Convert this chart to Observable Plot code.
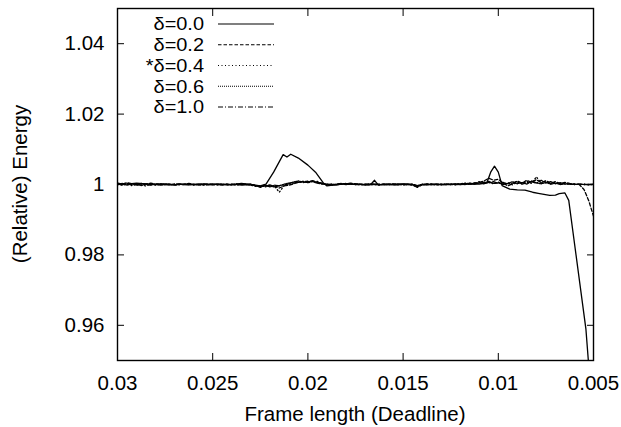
<!DOCTYPE html>
<html><head><meta charset="utf-8">
<script src="https://cdn.jsdelivr.net/npm/d3@7"></script>
<script src="https://cdn.jsdelivr.net/npm/@observablehq/plot@0.6"></script>
<style>
body{margin:0;background:#fff;}
#wrap{position:relative;width:621px;height:427px;}
#wrap svg{display:block;}
#over{position:absolute;left:0;top:0;pointer-events:none;}
</style></head><body><div id="wrap"></div>
<script>
const seriesNames = ["δ=0.0", "δ=0.2", "*δ=0.4", "δ=0.6", "δ=1.0"];
const xTicks = [0.03, 0.025, 0.02, 0.015, 0.01, 0.005];
const xTickLabels = ["0.03", "0.025", "0.02", "0.015", "0.01", "0.005"];
const yTicks = [0.96, 0.98, 1, 1.02, 1.04];
const yTickLabels = ["0.96", "0.98", "1", "1.02", "1.04"];
const xTitle = "Frame length (Deadline)";
const yTitle = "(Relative) Energy";

// δ=0.0 (solid)
const frame00 = [0.03,0.0295,0.029,0.0285,0.028,0.0275,0.027,0.0265,0.026,0.0255,0.025,0.0245,0.024,0.0235,0.023,0.0225,0.0222,0.0218,0.0215,0.0213,0.0211,0.0209,0.0205,0.02,0.0196,0.0192,0.019,0.0185,0.018,0.0175,0.017,0.0167,0.0165,0.0163,0.016,0.0155,0.015,0.0145,0.0143,0.014,0.0135,0.013,0.0125,0.012,0.0115,0.011,0.0106,0.0104,0.0102,0.01,0.0098,0.0094,0.009,0.0086,0.0082,0.0079,0.0076,0.0073,0.007,0.0068,0.0065,0.0063,0.0054,0.0052];
const energy00 = [1.0003,1.0001,1.0004,1.0002,1.0,1.0002,0.9999,1.0001,1.0,1.0002,1.0,1.0001,0.9999,1.0003,1.0,0.9996,1.0001,1.0035,1.0065,1.0085,1.0078,1.0086,1.0075,1.0055,1.0035,1.0005,0.9996,1.0,1.0002,1.0001,0.9999,1.0,1.0012,0.9998,1.0001,1.0,1.0002,1.0,0.9993,0.9999,1.0001,1.0,1.0001,1.0,1.0002,1.0001,1.0005,1.0035,1.0052,1.0035,0.9997,0.9987,0.9985,0.9984,0.9978,0.9975,0.9972,0.9969,0.997,0.9974,0.9976,0.9955,0.959,0.945];

// shared frame lengths for the other series
const frameGrid = [0.03,0.02975,0.0295,0.02925,0.029,0.02875,0.0285,0.02825,0.028,0.02775,
0.0275,0.02725,0.027,0.02675,0.0265,0.02625,0.026,0.02575,0.0255,0.02525,
0.025,0.02475,0.0245,0.02425,0.024,0.02375,0.0235,0.02325,0.023,0.02275,
0.0225,0.02225,0.022,0.02175,0.0215,0.02125,0.021,0.02075,0.0205,0.02025,
0.02,0.01975,0.0195,0.01925,0.019,0.01875,0.0185,0.01825,0.018,0.01775,
0.0175,0.01725,0.017,0.01675,0.0165,0.01625,0.016,0.01575,0.0155,0.01525,
0.015,0.01475,0.0145,0.01425,0.014,0.01375,0.0135,0.01325,0.013,0.01275,
0.0125,0.01225,0.012,0.01175,0.0115,0.01125,0.011,0.01075,0.0105,0.01025,
0.01,0.00975,0.0095,0.00925,0.009,0.00875,0.0085,0.00825,0.008,0.00775,
0.0075,0.00725,0.007,0.00675,0.0065,0.00625,0.006,0.00575,0.0055,0.00525,
0.005];
const energy02 = [1.0004,1.0001,1.0005,1.0002,0.9999,1.0003,1.0001,1.0004,1.0,1.0002,
1.0001,0.9999,1.0002,1.0,1.0001,1.0003,1.0,0.9999,1.0001,1.0,
1.0002,1.0,0.9998,1.0001,1.0,1.0002,0.9999,1.0,1.0001,0.9997,
0.9992,0.9996,0.9999,0.9994,0.999,0.9996,0.9998,1.0002,1.0006,1.0009,
1.0008,1.001,1.0006,1.0004,1.0,0.9998,1.0001,1.0003,1.0002,1.0004,
1.0002,1.0001,1.0,1.0002,1.0001,0.9999,1.0001,1.0,1.0002,1.0001,
1.0,0.9999,1.0001,0.9996,1.0,1.0002,1.0001,1.0,0.9999,1.0001,
1.0,1.0002,1.0001,1.0,1.0003,1.0002,1.0006,1.001,1.0018,1.0012,
1.0015,1.0004,0.9996,1.0002,1.001,1.0004,1.0012,1.0006,1.0014,1.0005,
1.0011,1.0003,1.0008,1.0002,1.0006,1.0003,1.0001,1.0,0.9986,0.9954,
0.991];
const energy04 = [1.0002,0.9998,1.0001,0.9997,1.0002,0.9999,0.9996,1.0001,0.9998,1.0,
0.9999,1.0001,0.9998,1.0,0.9999,1.0001,0.9999,1.0,0.9998,1.0001,
1.0,0.9999,1.0001,0.9999,1.0,0.9998,1.0,1.0001,0.9998,0.9995,
0.9996,0.9993,0.9997,0.9995,0.9978,0.9997,0.9999,1.0004,1.0008,1.0005,
1.001,1.0007,1.0009,1.0003,0.9999,1.0001,1.0,1.0002,1.0001,1.0,
1.0001,0.9999,1.0,1.0001,0.9999,1.0,1.0001,0.9999,1.0,1.0001,
0.9999,1.0,0.9998,0.9992,0.9999,1.0001,1.0,0.9999,1.0001,1.0,
1.0001,0.9999,1.0002,1.0004,1.0001,1.0003,1.0008,1.0003,1.0006,1.0002,
1.0007,1.0001,1.0005,0.9999,1.0007,1.0002,1.0009,1.0003,1.0022,1.0004,
1.001,1.0002,1.0007,1.0001,1.0004,1.0,1.0002,1.0,1.0001,0.9999,
1.0];
const energy06 = [0.9999,1.0003,0.9998,1.0002,1.0,0.9997,1.0002,0.9999,1.0001,0.9998,
1.0,1.0001,0.9999,1.0001,1.0,0.9999,1.0001,0.9999,1.0,1.0,
0.9999,1.0001,1.0,0.9999,1.0001,1.0,0.9999,1.0,0.9999,0.9996,
0.9994,0.9997,0.9993,0.9998,0.9996,1.0001,1.0004,1.0007,1.001,1.0007,
1.0006,1.0011,1.0005,1.0002,1.0,1.0001,0.9999,1.0001,1.0003,1.0001,
1.0,1.0001,0.9999,1.0,1.0001,1.0,0.9999,1.0001,1.0,0.9999,
1.0001,1.0,0.9999,0.9995,1.0001,1.0,0.9999,1.0001,1.0,1.0001,
0.9999,1.0001,1.0,1.0002,1.0004,1.0001,1.0005,1.0002,1.0009,1.0003,
1.0005,1.0,1.0003,1.0008,1.0002,1.0006,1.0001,1.001,1.0005,1.0002,
1.0006,1.0001,1.0004,1.0,1.0002,1.0001,1.0,1.0001,1.0,1.0,
1.0001];
const energy10 = [1.0001,0.9999,1.0003,1.0,0.9998,1.0002,1.0,0.9998,1.0002,1.0001,
1.0,0.9999,1.0,1.0002,1.0,1.0,0.9999,1.0001,1.0,0.9999,
1.0001,1.0,1.0,1.0001,0.9999,1.0001,1.0,0.9999,1.0,0.9997,
0.9995,0.9998,0.9996,0.9993,0.9997,0.9999,1.0002,1.0005,1.0006,1.0009,
1.0005,1.0008,1.0004,1.0001,1.0001,0.9999,1.0,1.0001,1.0,1.0002,
1.0,1.0,1.0001,0.9999,1.0,1.0001,1.0,1.0,0.9999,1.0,
1.0,1.0001,1.0,0.9997,1.0,0.9999,1.0001,1.0,1.0,0.9999,
1.0001,1.0,1.0001,1.0003,1.0,1.0005,1.0003,1.0007,1.0004,1.0008,
1.0003,1.0006,1.0001,1.0004,1.0009,1.0001,1.0005,1.0008,1.0003,1.0012,
1.0004,1.0008,1.0002,1.0005,1.0001,1.0002,1.0,1.0001,1.0,1.0,
1.0];

const dashPatterns = [null, "3.5,2", "1,2.5", "1,1", "5,2,1,2"];
const seriesX = [frame00, frameGrid, frameGrid, frameGrid, frameGrid];
const seriesY = [energy00, energy02, energy04, energy06, energy10];

const tables = seriesNames.map((name, s) =>
  seriesX[s].map((x, i) => ({series: name, x, y: seriesY[s][i]})));

const FONT = "'Liberation Sans', Arial, Helvetica, sans-serif";
const FS = 20.5;
const W = 621, H = 427, ML = 117, MR = 28, MT = 8, MB = 67;

const lineMarks = tables.map((t, s) => Plot.line(t, {
  x: "x", y: "y", stroke: "#000", strokeWidth: 1.3,
  strokeDasharray: dashPatterns[s] || undefined, clip: true
}));

const chart = Plot.plot({
  width: W, height: H,
  marginLeft: ML, marginRight: MR, marginTop: MT, marginBottom: MB,
  style: {fontFamily: FONT, fontSize: FS + "px", color: "#000", background: "#fff", overflow: "visible"},
  x: {domain: [0.03, 0.005]},
  y: {domain: [0.95, 1.05]},
  marks: [
    ...lineMarks,
    Plot.axisX(xTicks, {anchor: "bottom", tickSize: -7, tickPadding: 22, label: null, fontSize: FS,
      tickFormat: d => xTickLabels[xTicks.indexOf(d)]}),
    Plot.axisX(xTicks, {anchor: "top", tickSize: -7, label: null, tickFormat: () => ""}),
    Plot.axisY(yTicks, {anchor: "left", tickSize: -7, tickPadding: 20, label: null, fontSize: FS,
      tickFormat: d => yTickLabels[yTicks.indexOf(d)]}),
    Plot.axisY(yTicks, {anchor: "right", tickSize: -7, label: null, tickFormat: () => ""}),
    Plot.frame({stroke: "#000", strokeWidth: 1.4})
  ]
});

const wrap = document.getElementById("wrap");
wrap.appendChild(chart);

// overlay: axis titles and legend
const over = d3.select(wrap).append("svg").attr("id", "over")
  .attr("width", W).attr("height", H)
  .style("font-family", FONT).style("font-size", FS + "px");

over.append("text").attr("x", (ML + W - MR) / 2).attr("y", 421)
  .attr("text-anchor", "middle").attr("fill", "#000").text(xTitle);
over.append("text").attr("transform", `translate(27,${(MT + H - MB) / 2}) rotate(-90)`)
  .attr("text-anchor", "middle").attr("fill", "#000").text(yTitle);

const legY = [24, 44.75, 65.5, 86.25, 107];
seriesNames.forEach((name, i) => {
  over.append("text").attr("transform", `translate(204,${legY[i]}) scale(1.14,1)`)
    .attr("dy", "0.36em").style("font-size", "17.5px")
    .attr("text-anchor", "end").attr("fill", "#000").text(name);
  const l = over.append("line").attr("x1", 218).attr("x2", 274)
    .attr("y1", legY[i]).attr("y2", legY[i]).attr("stroke", "#000").attr("stroke-width", 1.2);
  if (dashPatterns[i]) l.attr("stroke-dasharray", dashPatterns[i]);
});
</script>
</body></html>
